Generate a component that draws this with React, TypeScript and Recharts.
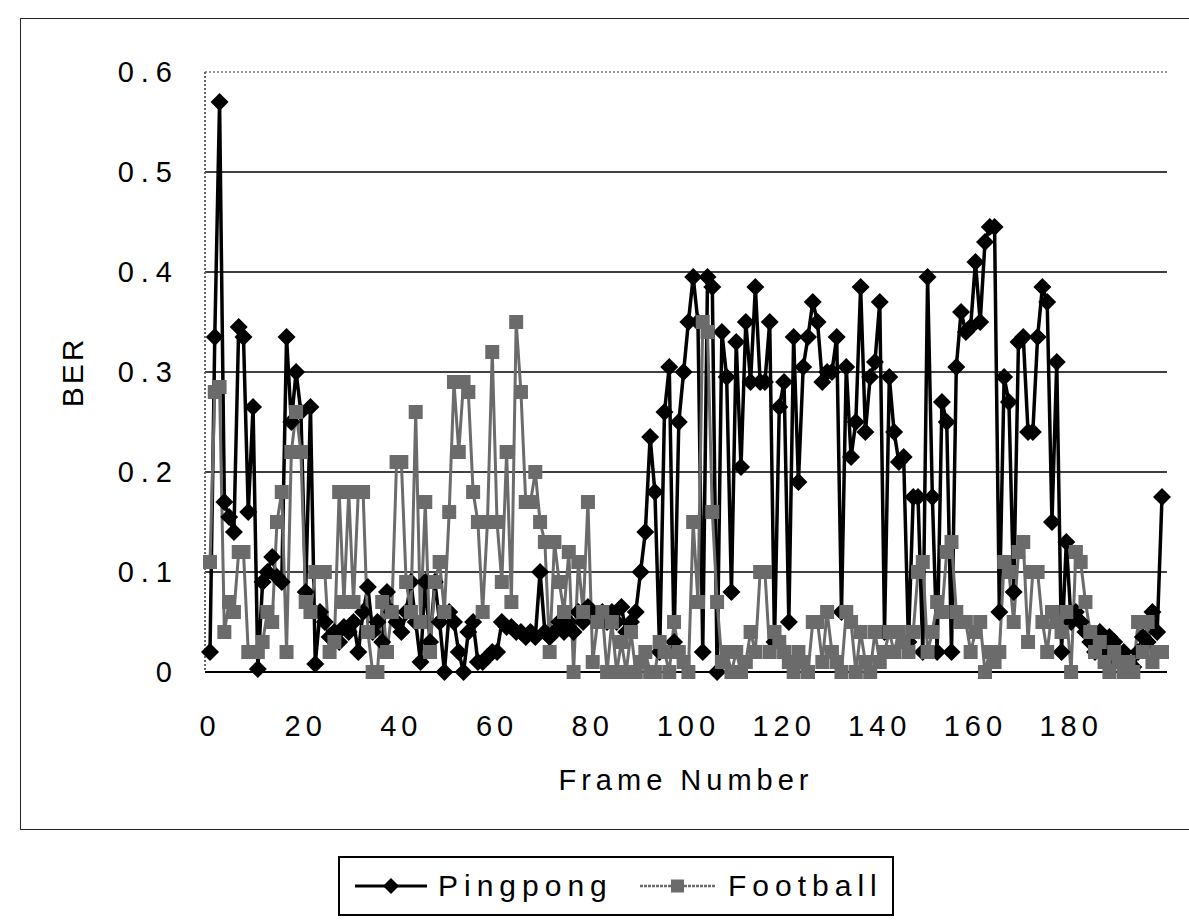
import {CartesianGrid, Line, LineChart, ReferenceLine, XAxis, YAxis} from "recharts";

const pingpong = [
  0.02, 0.335, 0.57, 0.17, 0.155, 0.14, 0.345, 0.335, 0.16, 0.265,
  0.003, 0.09, 0.1, 0.115, 0.095, 0.09, 0.335, 0.25, 0.3, 0.26,
  0.08, 0.265, 0.008, 0.06, 0.05, 0.035, 0.04, 0.03, 0.045, 0.04,
  0.05, 0.02, 0.06, 0.085, 0.04, 0.05, 0.03, 0.08, 0.06, 0.05,
  0.04, 0.06, 0.09, 0.05, 0.01, 0.09, 0.03, 0.09, 0.05, 0.0,
  0.06, 0.05, 0.02, 0.0, 0.04, 0.05, 0.01, 0.01, 0.015, 0.02,
  0.02, 0.05, 0.045, 0.045, 0.04, 0.04, 0.035, 0.04, 0.035, 0.1,
  0.04, 0.035, 0.04, 0.05, 0.04, 0.05, 0.04, 0.06, 0.05, 0.065,
  0.06, 0.055, 0.06, 0.05, 0.06, 0.05, 0.065, 0.04, 0.05, 0.06,
  0.1, 0.14, 0.235, 0.18, 0.02, 0.26, 0.305, 0.03, 0.25, 0.3,
  0.35, 0.395, 0.35, 0.02, 0.395, 0.385, 0.0, 0.34, 0.295, 0.08,
  0.33, 0.205, 0.35, 0.29, 0.385, 0.29, 0.29, 0.35, 0.03, 0.265,
  0.29, 0.05, 0.335, 0.19, 0.305, 0.335, 0.37, 0.35, 0.29, 0.3,
  0.3, 0.335, 0.06, 0.305, 0.215, 0.25, 0.385, 0.24, 0.295, 0.31,
  0.37, 0.04, 0.295, 0.24, 0.21, 0.215, 0.03, 0.175, 0.175, 0.02,
  0.395, 0.175, 0.02, 0.27, 0.25, 0.02, 0.305, 0.36, 0.34, 0.345,
  0.41, 0.35, 0.43, 0.445, 0.445, 0.06, 0.295, 0.27, 0.08, 0.33,
  0.335, 0.24, 0.24, 0.335, 0.385, 0.37, 0.15, 0.31, 0.02, 0.13,
  0.05, 0.06, 0.05, 0.04, 0.03, 0.02, 0.04, 0.02, 0.035, 0.03,
  0.01, 0.02, 0.01, 0.005, 0.02, 0.035, 0.03, 0.06, 0.04, 0.175,
];

const football = [
  0.11, 0.28, 0.285, 0.04, 0.07, 0.06, 0.12, 0.12, 0.02, 0.02,
  0.02, 0.03, 0.06, 0.05, 0.15, 0.18, 0.02, 0.22, 0.26, 0.22,
  0.07, 0.06, 0.1, 0.1, 0.1, 0.02, 0.03, 0.18, 0.07, 0.18,
  0.07, 0.18, 0.18, 0.04, 0.0, 0.0, 0.07, 0.02, 0.06, 0.21,
  0.21, 0.09, 0.06, 0.26, 0.05, 0.17, 0.02, 0.09, 0.11, 0.06,
  0.16, 0.29, 0.22, 0.29, 0.28, 0.18, 0.15, 0.06, 0.15, 0.32,
  0.15, 0.09, 0.22, 0.07, 0.35, 0.28, 0.17, 0.17, 0.2, 0.15,
  0.13, 0.02, 0.13, 0.09, 0.06, 0.12, 0.0, 0.11, 0.06, 0.17,
  0.01, 0.05, 0.06, 0.0, 0.05, 0.0, 0.03, 0.0, 0.04, 0.0,
  0.01, 0.02, 0.0, 0.0, 0.03, 0.02, 0.0, 0.05, 0.02, 0.01,
  0.0, 0.15, 0.07, 0.35, 0.34, 0.16, 0.07, 0.01, 0.02, 0.0,
  0.02, 0.0, 0.01, 0.04, 0.02, 0.1, 0.1, 0.02, 0.04, 0.03,
  0.02, 0.01, 0.0, 0.02, 0.01, 0.0, 0.05, 0.05, 0.01, 0.06,
  0.02, 0.01, 0.0, 0.06, 0.05, 0.0, 0.04, 0.01, 0.0, 0.04,
  0.01, 0.02, 0.04, 0.02, 0.04, 0.03, 0.02, 0.04, 0.1, 0.11,
  0.02, 0.04, 0.07, 0.06, 0.12, 0.13, 0.06, 0.05, 0.05, 0.02,
  0.04, 0.05, 0.0, 0.02, 0.01, 0.02, 0.11, 0.1, 0.05, 0.12,
  0.13, 0.03, 0.1, 0.1, 0.05, 0.02, 0.06, 0.05, 0.04, 0.06,
  0.0, 0.12, 0.11, 0.07, 0.04, 0.02, 0.03, 0.01, 0.0, 0.02,
  0.01, 0.0, 0.01, 0.0, 0.05, 0.02, 0.05, 0.01, 0.02, 0.02,
];

const xTicks = [0, 20, 40, 60, 80, 100, 120, 140, 160, 180];
const yTicks = [0, 0.1, 0.2, 0.3, 0.4, 0.5, 0.6];
const gridLines = [0.1, 0.2, 0.3, 0.4, 0.5];

const FONT = '"Liberation Sans", Arial, sans-serif';
const GRAY = "#6b6b6b";

const data = pingpong.map((p, i) => ({frame: i, pingpong: p, football: football[i]}));

const Diamond = (props: any) => {
  const {cx, cy, index} = props;
  if (cx == null || cy == null) return null;
  const r = 9;
  return <polygon key={`d${index}`} points={`${cx},${cy - r} ${cx + r},${cy} ${cx},${cy + r} ${cx - r},${cy}`} fill="#000"/>;
};

const Square = (props: any) => {
  const {cx, cy, index} = props;
  if (cx == null || cy == null) return null;
  const s = 7;
  return <rect key={`s${index}`} x={cx - s} y={cy - s} width={s * 2} height={s * 2} fill={GRAY}/>;
};

const YLabel = (props: any) => {
  const vb = props.viewBox || {y: 72, height: 600};
  const cy = vb.y + vb.height / 2;
  return <text x={72} y={cy} transform={`rotate(-90 72 ${cy})`} textAnchor="middle" dominantBaseline="central"
               fontFamily={FONT} fontSize={30} letterSpacing={3} fill="#000">BER</text>;
};

const yTickStyle = {fontFamily: FONT, fontSize: 29, fill: "#000", letterSpacing: 7};
const xTickStyle = {fontFamily: FONT, fontSize: 29, fill: "#000", letterSpacing: 5};

export default function App() {
  return <div style={{position: "absolute", left: 0, top: 0, width: 1189, height: 920, background: "#fff", overflow: "hidden"}}>
    <div style={{
      position: "absolute", left: 20, top: 18, width: 1200, height: 812, boxSizing: "border-box",
      borderTop: "1.5px solid #222", borderLeft: "1.5px solid #222", borderBottom: "1.5px solid #222",
    }}/>

    <div style={{position: "absolute", left: 0, top: 0}}>
      <LineChart width={1189} height={920} data={data} margin={{top: 72, right: 22, bottom: 128, left: 0}}>
        <CartesianGrid horizontal={false} vertical={false}/>
        {gridLines.map(v => <ReferenceLine key={v} y={v} stroke="#000" strokeWidth={1.3}/>)}
        <ReferenceLine y={0.6} stroke="#777" strokeWidth={1.5} strokeDasharray="2 2"/>
        <XAxis
          dataKey="frame"
          type="number"
          domain={[0, 199]}
          ticks={xTicks}
          padding={{left: 5, right: 5}}
          height={120}
          tickLine={false}
          tickSize={0}
          tickMargin={43}
          axisLine={{stroke: "#000", strokeWidth: 2}}
          tick={xTickStyle}
          interval={0}
          label={{value: "Frame Number", position: "insideBottom", offset: 2, fontFamily: FONT, fontSize: 29, fill: "#000", letterSpacing: 5}}
        />
        <YAxis
          domain={[0, 0.6]}
          ticks={yTicks}
          width={205}
          tickLine={false}
          tickSize={0}
          tickMargin={26}
          axisLine={{stroke: "#666", strokeWidth: 2, strokeDasharray: "2 2"}}
          tick={yTickStyle}
          tickFormatter={(v: number) => (v === 0 ? "0" : v.toFixed(1))}
          interval={0}
          label={<YLabel/>}
        />
        <YAxis
          yAxisId="right"
          orientation="right"
          width={0}
          domain={[0, 0.6]}
          tick={false}
          tickLine={false}
          axisLine={{stroke: "#666", strokeWidth: 2, strokeDasharray: "2 2"}}
        />
        <Line type="linear" dataKey="pingpong" stroke="#000" strokeWidth={3.5} dot={<Diamond/>} isAnimationActive={false}/>
        <Line type="linear" dataKey="football" stroke={GRAY} strokeWidth={3} dot={<Square/>} isAnimationActive={false}/>
      </LineChart>
    </div>

    <div style={{
      position: "absolute", left: 338, top: 856, width: 556, height: 60, boxSizing: "border-box",
      border: "2px solid #000", fontFamily: FONT, fontSize: 30, color: "#000",
    }}>
      <svg style={{position: "absolute", left: 15, top: 18}} width={72} height={20}>
        <line x1={0} y1={10} x2={72} y2={10} stroke="#000" strokeWidth={3}/>
        <polygon points="36,2 44,10 36,18 28,10" fill="#000"/>
      </svg>
      <span style={{position: "absolute", left: 98, top: 10, letterSpacing: 6, lineHeight: "36px"}}>Pingpong</span>
      <svg style={{position: "absolute", left: 300, top: 18}} width={76} height={20}>
        <line x1={0} y1={10} x2={76} y2={10} stroke={GRAY} strokeWidth={2.5} strokeDasharray="3 1"/>
        <rect x={31} y={3.5} width={13} height={13} fill={GRAY}/>
      </svg>
      <span style={{position: "absolute", left: 388, top: 10, letterSpacing: 6, lineHeight: "36px"}}>Football</span>
    </div>
  </div>;
}
